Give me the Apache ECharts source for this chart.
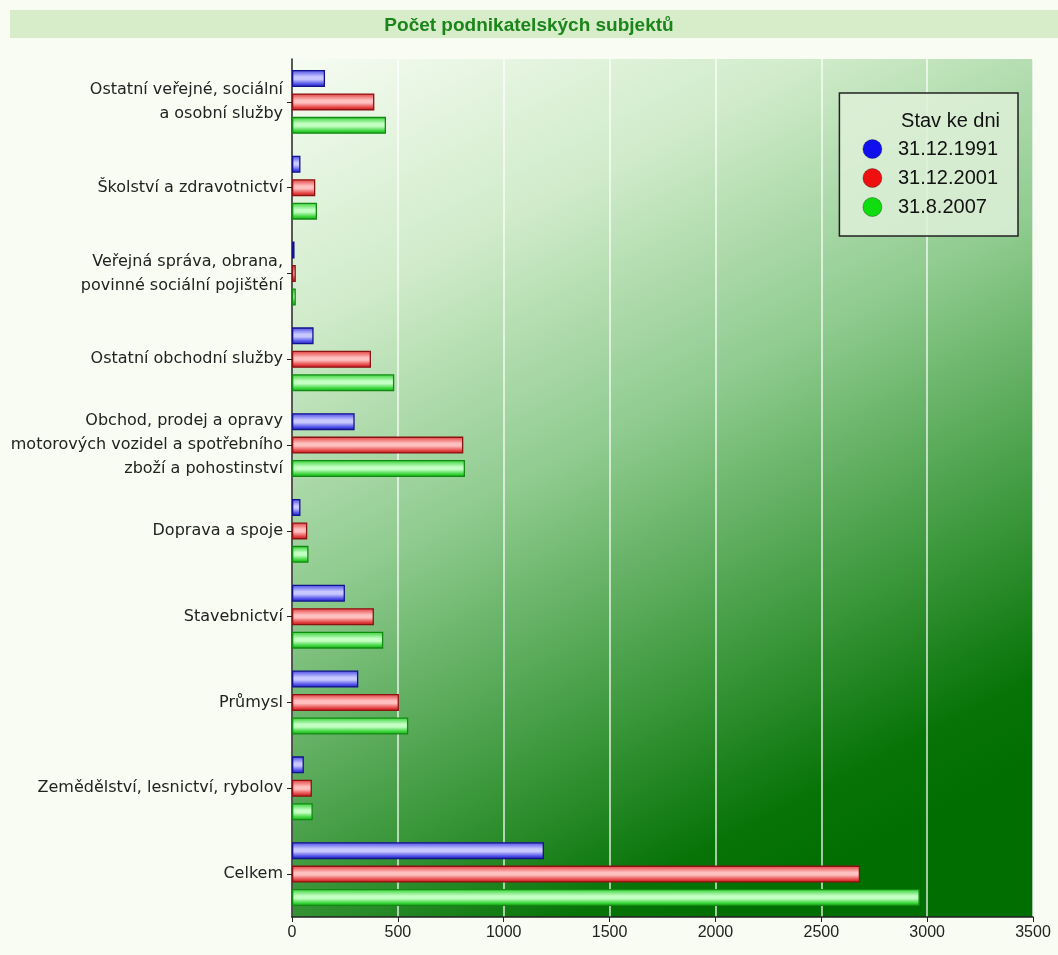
<!DOCTYPE html>
<html>
<head>
<meta charset="utf-8">
<script src="https://cdn.jsdelivr.net/npm/echarts@6/dist/echarts.min.js"></script>
<style>
html,body{margin:0;padding:0;background:#f8fcf2;}
#c{width:1058px;height:955px;}
</style>
</head>
<body>
<div id="c"></div>
<script>
const categories = [
  "Ostatní veřejné, sociální\na osobní služby",
  "Školství a zdravotnictví",
  "Veřejná správa, obrana,\npovinné sociální pojištění",
  "Ostatní obchodní služby",
  "Obchod, prodej a opravy\nmotorových vozidel a spotřebního\nzboží a pohostinství",
  "Doprava a spoje",
  "Stavebnictví",
  "Průmysl",
  "Zemědělství, lesnictví, rybolov",
  "Celkem"
];
const seriesNames = ["31.12.1991", "31.12.2001", "31.8.2007"];
const values1991 = [156, 40, 12, 102, 296, 40, 250, 313, 56, 1190];
const values2001 = [389, 110, 18, 373, 809, 72, 387, 505, 94, 2683];
const values2007 = [444, 118, 18, 483, 817, 78, 431, 549, 98, 2965];
const titleText = "Počet podnikatelských subjektů";
const legendTitle = "Stav ke dni";

const chart = echarts.init(document.getElementById('c'), null, {renderer: 'canvas'});
const G = echarts.graphic.LinearGradient;
function barStyle(edge, mid, dark, border) {
  return {
    color: new G(0, 0, 0, 1, [
      {offset: 0, color: edge},
      {offset: 0.4, color: mid},
      {offset: 0.55, color: mid},
      {offset: 0.85, color: edge},
      {offset: 1, color: dark}
    ]),
    borderColor: border,
    borderWidth: 1.3
  };
}
const styles = [
  barStyle('#4646e6', '#c8c8ff', '#2a2ab0', '#12128a'),
  barStyle('#e23a3a', '#ffc0c0', '#b01e1e', '#8a1212'),
  barStyle('#30d030', '#c4ffc4', '#1ea01e', '#128a12')
];
const legendColors = ['#1010ee', '#ee1010', '#10dd10'];
const dataSets = [values1991, values2001, values2007];
const font = 'Liberation Sans';
const labelFont = 'DejaVu Sans';

chart.setOption({
  backgroundColor: '#f8fcf2',
  animation: false,
  title: {
    text: titleText,
    left: 'center',
    top: 11,
    textStyle: {color: '#1a851a', fontSize: 19, fontWeight: 'bold', fontFamily: font}
  },
  graphic: [
    {type: 'rect', left: 10, top: 10, z: -1, shape: {width: 1048, height: 28}, style: {fill: '#d7ecc8'}},
    {type: 'text', right: 58, top: 111, z: 100, style: {text: legendTitle, fontSize: 20, fontFamily: font, fill: '#111'}}
  ],
  legend: {
    orient: 'vertical',
    right: 40,
    top: 93,
    padding: [46, 20, 19, 23],
    itemGap: 9,
    itemWidth: 19,
    itemHeight: 19,
    icon: 'circle',
    backgroundColor: 'rgba(222,240,216,0.85)',
    borderColor: '#222',
    borderWidth: 1.5,
    borderRadius: 0,
    textStyle: {fontSize: 20, fontFamily: font, color: '#111', padding: [0, 0, 0, 11]},
    data: seriesNames.map((n, i) => ({name: n, itemStyle: {color: legendColors[i], borderColor: 'rgba(0,0,0,0.3)', borderWidth: 1}}))
  },
  grid: {
    left: 292, right: 25, top: 59, bottom: 38,
    show: true,
    borderWidth: 0,
    backgroundColor: new G(0, 0, 0.6, 1, [
      {offset: 0, color: '#f6fcf2'},
      {offset: 0.25, color: '#d0ebca'},
      {offset: 0.5, color: '#8fcb8f'},
      {offset: 0.75, color: '#3f9a3f'},
      {offset: 0.92, color: '#087408'},
      {offset: 1, color: '#006e00'}
    ])
  },
  xAxis: {
    type: 'value',
    min: 0, max: 3500, interval: 500,
    axisLine: {show: true, lineStyle: {color: '#222', width: 1.5}},
    axisTick: {show: true, length: 5, lineStyle: {color: '#222'}},
    axisLabel: {fontSize: 16, fontFamily: font, color: '#222', margin: 8, formatter: v => String(v)},
    splitLine: {show: true, lineStyle: {color: 'rgba(255,255,255,0.85)', width: 1.5}}
  },
  yAxis: {
    type: 'category',
    inverse: true,
    data: categories,
    axisLine: {show: true, lineStyle: {color: '#222', width: 1.5}},
    axisTick: {show: true, length: 5, alignWithLabel: true, lineStyle: {color: '#222'}},
    axisLabel: {fontSize: 16, fontFamily: labelFont, color: '#222', margin: 9, lineHeight: 24, align: 'right'},
    splitLine: {show: false}
  },
  series: seriesNames.map((n, i) => ({
    name: n,
    type: 'bar',
    data: dataSets[i],
    barWidth: 17,
    barGap: '38%',
    itemStyle: styles[i]
  }))
});
</script>
</body>
</html>
